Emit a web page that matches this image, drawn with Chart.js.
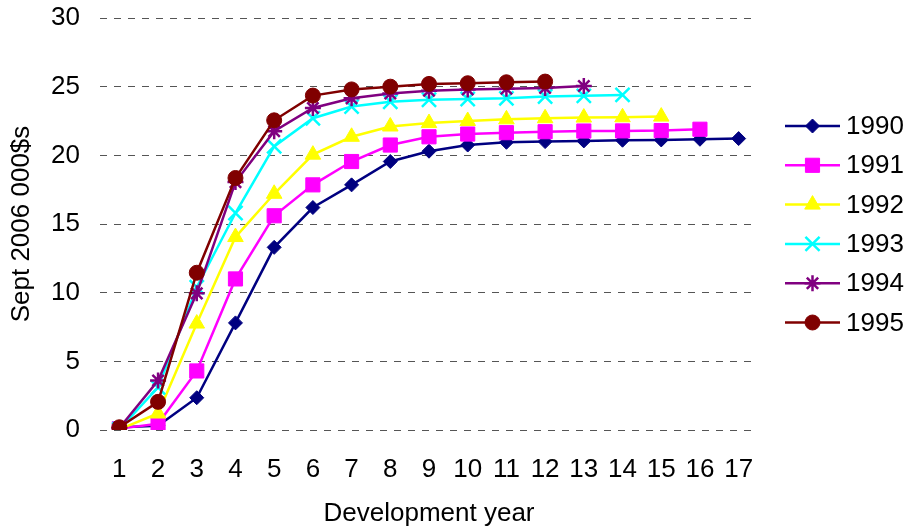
<!DOCTYPE html>
<html>
<head>
<meta charset="utf-8">
<script src="https://cdn.jsdelivr.net/npm/chart.js@4/dist/chart.umd.min.js"></script>
<style>
  html, body { margin: 0; padding: 0; background: #fff; }
  #wrap { width: 907px; height: 529px; }
</style>
</head>
<body>
<div id="wrap"><canvas id="devChart" width="907" height="529"></canvas></div>
<script>
// Development years on the x axis
const devYears = ['1', '2', '3', '4', '5', '6', '7', '8', '9', '10', '11', '12', '13', '14', '15', '16', '17'];
const yTicks = [0, 5, 10, 15, 20, 25, 30];

// Cumulative values per accident year (Sept 2006 000$s)
const y1990 = [0.2, 0.3, 2.35, 7.8, 13.3, 16.2, 17.85, 19.55, 20.3, 20.75, 20.95, 21.0, 21.05, 21.1, 21.12, 21.17, 21.22];
const y1991 = [0.1, 0.45, 4.3, 11.0, 15.6, 17.85, 19.55, 20.75, 21.35, 21.55, 21.65, 21.72, 21.77, 21.78, 21.8, 21.9];
const y1992 = [0.05, 1.2, 7.75, 14.05, 17.2, 20.05, 21.35, 22.1, 22.35, 22.5, 22.62, 22.7, 22.75, 22.77, 22.82];
const y1993 = [0.05, 3.1, 10.4, 15.8, 20.65, 22.7, 23.55, 23.9, 24.05, 24.1, 24.15, 24.28, 24.33, 24.4];
const y1994 = [0.15, 3.6, 9.95, 18.05, 21.75, 23.45, 24.15, 24.5, 24.7, 24.8, 24.85, 24.9, 25.05];
const y1995 = [0.2, 2.05, 11.45, 18.35, 22.55, 24.35, 24.8, 25.0, 25.2, 25.25, 25.32, 25.37];

const seriesNames = ['1990', '1991', '1992', '1993', '1994', '1995'];
const seriesData = [y1990, y1991, y1992, y1993, y1994, y1995];
const seriesColors = ['#000080', '#FF00FF', '#FFFF00', '#00FFFF', '#800080', '#800000'];
const seriesMarkers = ['rectRot', 'rect', 'triangle', 'crossRot', 'star', 'circle'];
const markerSizes = [7, 10, 9, 10, 8, 7.5];

const FONT = 'Arial, "Liberation Sans", sans-serif';
const FONT_SIZE = 26;

const datasets = seriesNames.map((name, i) => ({
    label: name,
    data: seriesData[i],
    borderColor: seriesColors[i],
    backgroundColor: seriesColors[i],
    borderWidth: 2.5,
    pointStyle: seriesMarkers[i],
    pointRadius: markerSizes[i],
    pointBorderWidth: (seriesMarkers[i] === 'crossRot' || seriesMarkers[i] === 'star') ? 2.5 : 1,
    pointBorderColor: seriesColors[i],
    pointBackgroundColor: seriesColors[i],
    tension: 0,
    fill: false,
    order: seriesNames.length - i // later years drawn on top, like the original
}));

// Legend drawn by hand so that each entry shows line + marker
const sideLegend = {
    id: 'sideLegend',
    afterDraw(chart) {
        const ctx = chart.ctx;
        ctx.save();
        chart.data.datasets.forEach((ds, i) => {
            const y = 126 + i * 39.3;
            ctx.strokeStyle = ds.borderColor;
            ctx.lineWidth = 2.5;
            ctx.beginPath();
            ctx.moveTo(785, y);
            ctx.lineTo(840, y);
            ctx.stroke();
            if (Chart.helpers && Chart.helpers.drawPoint) {
                ctx.fillStyle = ds.pointBackgroundColor;
                ctx.strokeStyle = ds.pointBorderColor;
                ctx.lineWidth = ds.pointBorderWidth;
                Chart.helpers.drawPoint(ctx, { pointStyle: ds.pointStyle, radius: ds.pointRadius, rotation: 0, borderWidth: ds.pointBorderWidth }, 812.5, y);
            }
            ctx.fillStyle = '#000';
            ctx.font = FONT_SIZE + 'px ' + FONT;
            ctx.textAlign = 'left';
            ctx.textBaseline = 'middle';
            ctx.fillText(ds.label, 846, y + 1);
        });
        ctx.restore();
    }
};

new Chart(document.getElementById('devChart'), {
    type: 'line',
    data: { labels: devYears, datasets: datasets },
    options: {
        responsive: false,
        animation: false,
        layout: { padding: { top: 18, right: 149, left: 0, bottom: 0 } },
        plugins: {
            legend: { display: false },
            tooltip: { enabled: false }
        },
        scales: {
            x: {
                type: 'category',
                offset: true,
                grid: { display: false, drawTicks: false },
                border: { display: false },
                ticks: { color: '#000', font: { size: FONT_SIZE, family: FONT }, padding: 24, maxRotation: 0, autoSkip: false },
                title: { display: true, text: 'Development year', color: '#000', font: { size: FONT_SIZE, family: FONT }, padding: { top: 0, bottom: 0 } },
                afterFit(scale) { scale.height = 99; }
            },
            y: {
                min: 0,
                max: 30,
                afterBuildTicks(scale) { scale.ticks = yTicks.map(v => ({ value: v })); },
                grid: { color: '#555', lineWidth: 1, drawTicks: false },
                border: { display: false, dash: [7, 7] },
                ticks: { color: '#000', font: { size: FONT_SIZE, family: FONT }, padding: 20 },
                title: { display: true, text: 'Sept 2006 000$s', color: '#000', font: { size: FONT_SIZE, family: FONT }, padding: { top: 6, bottom: 0 } },
                afterFit(scale) {
                    scale.width = 100;
                    scale.paddingTop = 0;
                    scale.paddingBottom = 0;
                }
            }
        }
    },
    plugins: [sideLegend]
});
</script>
</body>
</html>
